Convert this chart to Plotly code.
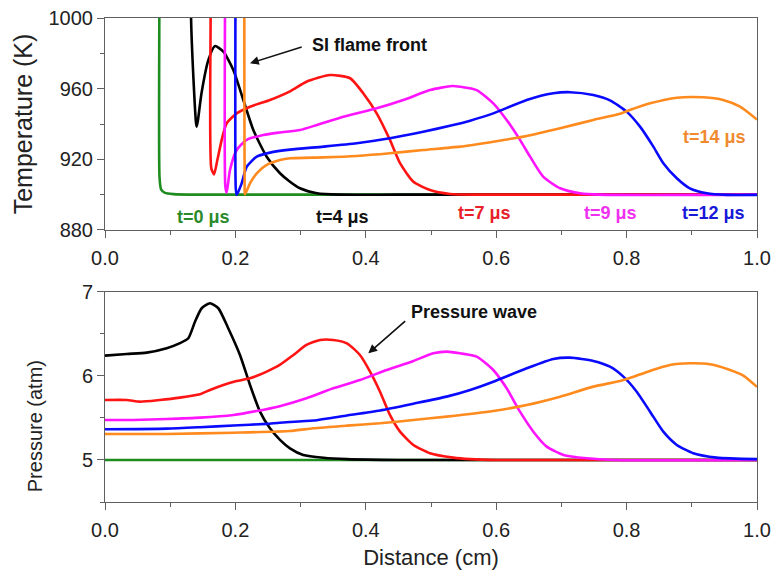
import plotly.graph_objects as go

# ---------------- Temperature (top panel) ----------------
x_t0 = [0.0833, 0.0833, 0.0836, 0.086, 0.092, 0.105, 0.14, 1.0]
T_t0 = [1020, 1000, 910, 903, 901, 900.3, 900, 900]

x_t4 = [0.132, 0.132, 0.1355, 0.1395, 0.1406, 0.1425, 0.148, 0.1585, 0.1687, 0.1815, 0.1968,
        0.2122, 0.2275, 0.248, 0.2684, 0.2837, 0.299, 0.325, 0.36, 0.45, 1.0]
T_t4 = [1020, 1000, 966.8, 941, 938.5, 942, 957.4, 976.2, 984.1, 980.9, 970.6,
        953.6, 936.6, 921.5, 912.1, 907.3, 903.6, 900.8, 900, 900, 900]

x_t7 = [0.162, 0.162, 0.163, 0.1672, 0.1723, 0.179, 0.1866, 0.202, 0.2224, 0.253, 0.2837,
        0.309, 0.345, 0.376, 0.396, 0.4167, 0.437, 0.4525, 0.473, 0.4985, 0.529, 0.5755, 1.0]
T_t7 = [1020, 1000, 915, 911.5, 919.6, 931, 940.4, 946, 949.8, 953.6, 958.5,
        963.9, 967.7, 965.9, 957.4, 946, 931, 917.8, 907.3, 902.6, 900.4, 900, 900]

x_t9 = [0.184, 0.184, 0.1845, 0.1866, 0.1917, 0.202, 0.2173, 0.2428, 0.268, 0.299, 0.3247,
        0.3655, 0.4167, 0.4575, 0.4985, 0.532, 0.5445, 0.570, 0.5955, 0.616, 0.6365, 0.652,
        0.672, 0.698, 0.7285, 0.759, 1.0]
T_t9 = [1020, 1000, 905, 901.1, 914, 925.3, 931, 933.8, 935.2, 936.6, 939.4,
        944.1, 948.9, 953.6, 959.2, 961.5, 961.1, 959.2, 951.7, 942.3, 931, 921.5,
        910.2, 903.6, 900.8, 900, 900]

x_t12 = [0.2, 0.2, 0.2005, 0.202, 0.2096, 0.2173, 0.2327, 0.253, 0.2837, 0.335, 0.386, 0.437,
         0.488, 0.529, 0.56, 0.5955, 0.6468, 0.6876, 0.7132, 0.749, 0.7745, 0.80, 0.8206,
         0.841, 0.8563, 0.877, 0.897, 0.923, 0.9535, 1.0]
T_t12 = [1020, 1000, 904, 899.8, 906.4, 915.8, 921.5, 923.8, 925.5, 927.2, 929.1, 931.9,
         935.6, 939.0, 941.9, 946, 953.6, 957.4, 958, 956.4, 953.4, 947, 938.5,
         927.2, 917.8, 909.3, 903.6, 900.8, 899.9, 899.9]

x_t14 = [0.2137, 0.2137, 0.2142, 0.2147, 0.2224, 0.2327, 0.248, 0.2684, 0.2837, 0.335, 0.386,
         0.437, 0.488, 0.5445, 0.5955, 0.6468, 0.698, 0.749, 0.79, 0.805, 0.836, 0.877,
         0.918, 0.948, 0.974, 1.0]
T_t14 = [1020, 1000, 903, 900.2, 906.4, 912.1, 916.8, 919.6, 920.6, 921.1, 921.9,
         923.4, 925.3, 927.2, 930, 933.2, 937.6, 942.3, 945.8, 947.9, 951.7, 954.9,
         955.1, 953.6, 949.8, 942.5]

# ---------------- Pressure (bottom panel) ----------------
x_p0 = [0.0, 1.0]
P_p0 = [5.0, 5.0]

x_p4 = [0.0, 0.0333, 0.064, 0.0946, 0.115, 0.1278, 0.138, 0.1483, 0.161, 0.1738, 0.189,
        0.207, 0.2224, 0.2377, 0.253, 0.2684, 0.2837, 0.304, 0.335, 0.371, 0.45, 1.0]
P_p4 = [6.242, 6.262, 6.278, 6.33, 6.39, 6.449, 6.646, 6.806, 6.865, 6.806, 6.568,
        6.25, 5.893, 5.575, 5.377, 5.24, 5.139, 5.06, 5.027, 5.01, 5.0, 5.0]

x_p7 = [0.0, 0.033, 0.0537, 0.084, 0.115, 0.1457, 0.161, 0.1815, 0.202, 0.2224, 0.248,
        0.268, 0.289, 0.309, 0.33, 0.35, 0.371, 0.391, 0.4065, 0.4218, 0.437, 0.4525,
        0.473, 0.4985, 0.534, 0.56, 0.6, 1.0]
P_p7 = [5.714, 5.714, 5.694, 5.714, 5.742, 5.782, 5.833, 5.893, 5.94, 5.972, 6.052,
        6.131, 6.25, 6.369, 6.429, 6.429, 6.389, 6.25, 6.052, 5.813, 5.536, 5.337,
        5.179, 5.08, 5.028, 5.01, 5.0, 5.0]

x_p9 = [0.0, 0.043, 0.0946, 0.1457, 0.197, 0.2327, 0.268, 0.309, 0.35, 0.391, 0.432,
        0.473, 0.5035, 0.524, 0.5445, 0.570, 0.5955, 0.616, 0.6365, 0.657, 0.6775,
        0.703, 0.739, 0.78, 1.0]
P_p9 = [5.476, 5.476, 5.488, 5.504, 5.536, 5.583, 5.64, 5.734, 5.853, 5.952, 6.071,
        6.179, 6.27, 6.29, 6.27, 6.23, 6.071, 5.853, 5.575, 5.337, 5.159,
        5.06, 5.02, 5.0, 5.0]

x_p12 = [0.0, 0.0946, 0.1457, 0.197, 0.248, 0.268, 0.3195, 0.371, 0.4218, 0.473, 0.524,
         0.56, 0.5955, 0.6468, 0.6876, 0.7132, 0.749, 0.7745, 0.795, 0.8155, 0.836,
         0.8563, 0.877, 0.9023, 0.938, 1.0]
P_p12 = [5.365, 5.373, 5.39, 5.41, 5.43, 5.444, 5.47, 5.53, 5.59, 5.67, 5.754,
         5.833, 5.932, 6.091, 6.202, 6.218, 6.179, 6.11, 5.992, 5.813, 5.575,
         5.337, 5.179, 5.08, 5.028, 5.01]

x_p14 = [0.0, 0.0946, 0.197, 0.2837, 0.3195, 0.371, 0.4218, 0.473, 0.524, 0.5955, 0.6468,
         0.698, 0.749, 0.79, 0.805, 0.836, 0.8666, 0.897, 0.928, 0.9586, 0.979, 1.0]
P_p14 = [5.31, 5.31, 5.325, 5.345, 5.377, 5.409, 5.437, 5.476, 5.516, 5.583, 5.655,
         5.754, 5.873, 5.94, 5.975, 6.06, 6.131, 6.151, 6.139, 6.071, 6.004, 5.87]

series_names = ["t=0 μs", "t=4 μs", "t=7 μs", "t=9 μs", "t=12 μs", "t=14 μs"]
line_colors = ["#1e8c1e", "#000000", "#ff1414", "#ff14ff", "#0a0aff", "#ff8a1e"]
text_colors = ["#2a8a2a", "#111111", "#e8202a", "#f030f0", "#1818d8", "#f08a30"]

temp_x = [x_t0, x_t4, x_t7, x_t9, x_t12, x_t14]
temp_y = [T_t0, T_t4, T_t7, T_t9, T_t12, T_t14]
pres_x = [x_p0, x_p4, x_p7, x_p9, x_p12, x_p14]
pres_y = [P_p0, P_p4, P_p7, P_p9, P_p12, P_p14]

# label positions (data coordinates of top panel)
label_x = [0.151, 0.364, 0.582, 0.775, 0.934, 0.935]
label_y = [887.5, 887.5, 889.6, 889.6, 889.6, 932.8]

FONT = "Liberation Sans, Arial"

fig = go.Figure()
for i in range(6):
    fig.add_trace(go.Scatter(x=temp_x[i], y=temp_y[i], mode="lines", name=series_names[i],
                             line=dict(color=line_colors[i], width=2.6, shape="spline", smoothing=0.6),
                             xaxis="x", yaxis="y", showlegend=False))
for i in range(6):
    fig.add_trace(go.Scatter(x=pres_x[i], y=pres_y[i], mode="lines", name=series_names[i],
                             line=dict(color=line_colors[i], width=2.6, shape="spline", smoothing=0.6),
                             xaxis="x2", yaxis="y2", showlegend=False))

axis_common = dict(showline=True, linecolor="#606060", linewidth=1, mirror=True,
                   showgrid=False, zeroline=False, ticks="outside", ticklen=7,
                   tickcolor="#606060", automargin=False,
                   tickfont=dict(family=FONT, size=20, color="#222"))

fig.update_layout(
    width=772, height=573,
    margin=dict(l=105, r=15, t=18, b=71, autoexpand=False),
    paper_bgcolor="white", plot_bgcolor="white",
    xaxis=dict(domain=[0, 1], anchor="y", range=[0, 1], tick0=0, dtick=0.2, tickformat=".1f",
               minor=dict(dtick=0.1, ticklen=4, ticks="outside", tickcolor="#606060"),
               ticklabelstandoff=3, **axis_common),
    yaxis=dict(domain=[0.562, 1], anchor="x", range=[880, 1000], tick0=880, dtick=40,
               minor=dict(dtick=20, tick0=880, ticklen=4, ticks="outside", tickcolor="#606060"),
               title=dict(text="Temperature (K)", standoff=8,
                          font=dict(family=FONT, size=25, color="#222")),
               **axis_common),
    xaxis2=dict(domain=[0, 1], anchor="y2", range=[0, 1], tick0=0, dtick=0.2, tickformat=".1f",
                minor=dict(dtick=0.1, ticklen=4, ticks="outside", tickcolor="#606060"),
                ticklabelstandoff=3,
                title=dict(text="Distance (cm)", standoff=9,
                           font=dict(family=FONT, size=22, color="#222")),
                **axis_common),
    yaxis2=dict(domain=[0, 0.434], anchor="x2", range=[4.5, 7], tick0=5, dtick=1,
                minor=dict(dtick=0.5, tick0=4.5, ticklen=4, ticks="outside", tickcolor="#606060"),
                **axis_common),
)

# Pressure axis title (placed lower than centre, as in the reference)
fig.add_annotation(x=-0.107, y=0.157, xref="paper", yref="paper", xanchor="center",
                   yanchor="middle", textangle=-90, text="Pressure (atm)", showarrow=False,
                   font=dict(family=FONT, size=20, color="#222"))

for i in range(6):
    fig.add_annotation(x=label_x[i], y=label_y[i], xref="x", yref="y",
                       text="<b>" + series_names[i] + "</b>", showarrow=False,
                       font=dict(family=FONT, size=18, color=text_colors[i]))

fig.add_annotation(x=0.2224, y=974.4, xref="x", yref="y", ax=0.304, ay=983.8,
                   axref="x", ayref="y", text="", showarrow=True, arrowhead=2,
                   arrowsize=1.1, arrowwidth=1.6, arrowcolor="#111")
fig.add_annotation(x=0.314, y=984.8, xref="x", yref="y", xanchor="left",
                   text="<b>SI flame front</b>", showarrow=False,
                   font=dict(family=FONT, size=18, color="#111"))

fig.add_annotation(x=0.4038, y=6.27, xref="x2", yref="y2", ax=0.4627, ay=6.667,
                   axref="x2", ayref="y2", text="", showarrow=True, arrowhead=2,
                   arrowsize=1.1, arrowwidth=1.6, arrowcolor="#111")
fig.add_annotation(x=0.4655, y=6.766, xref="x2", yref="y2", xanchor="left",
                   text="<b>Pressure wave</b>", showarrow=False,
                   font=dict(family=FONT, size=18, color="#111"))

fig.write_html("out.html", config={"displayModeBar": False},
               post_script="document.body.style.margin='0';document.body.style.padding='0';")
